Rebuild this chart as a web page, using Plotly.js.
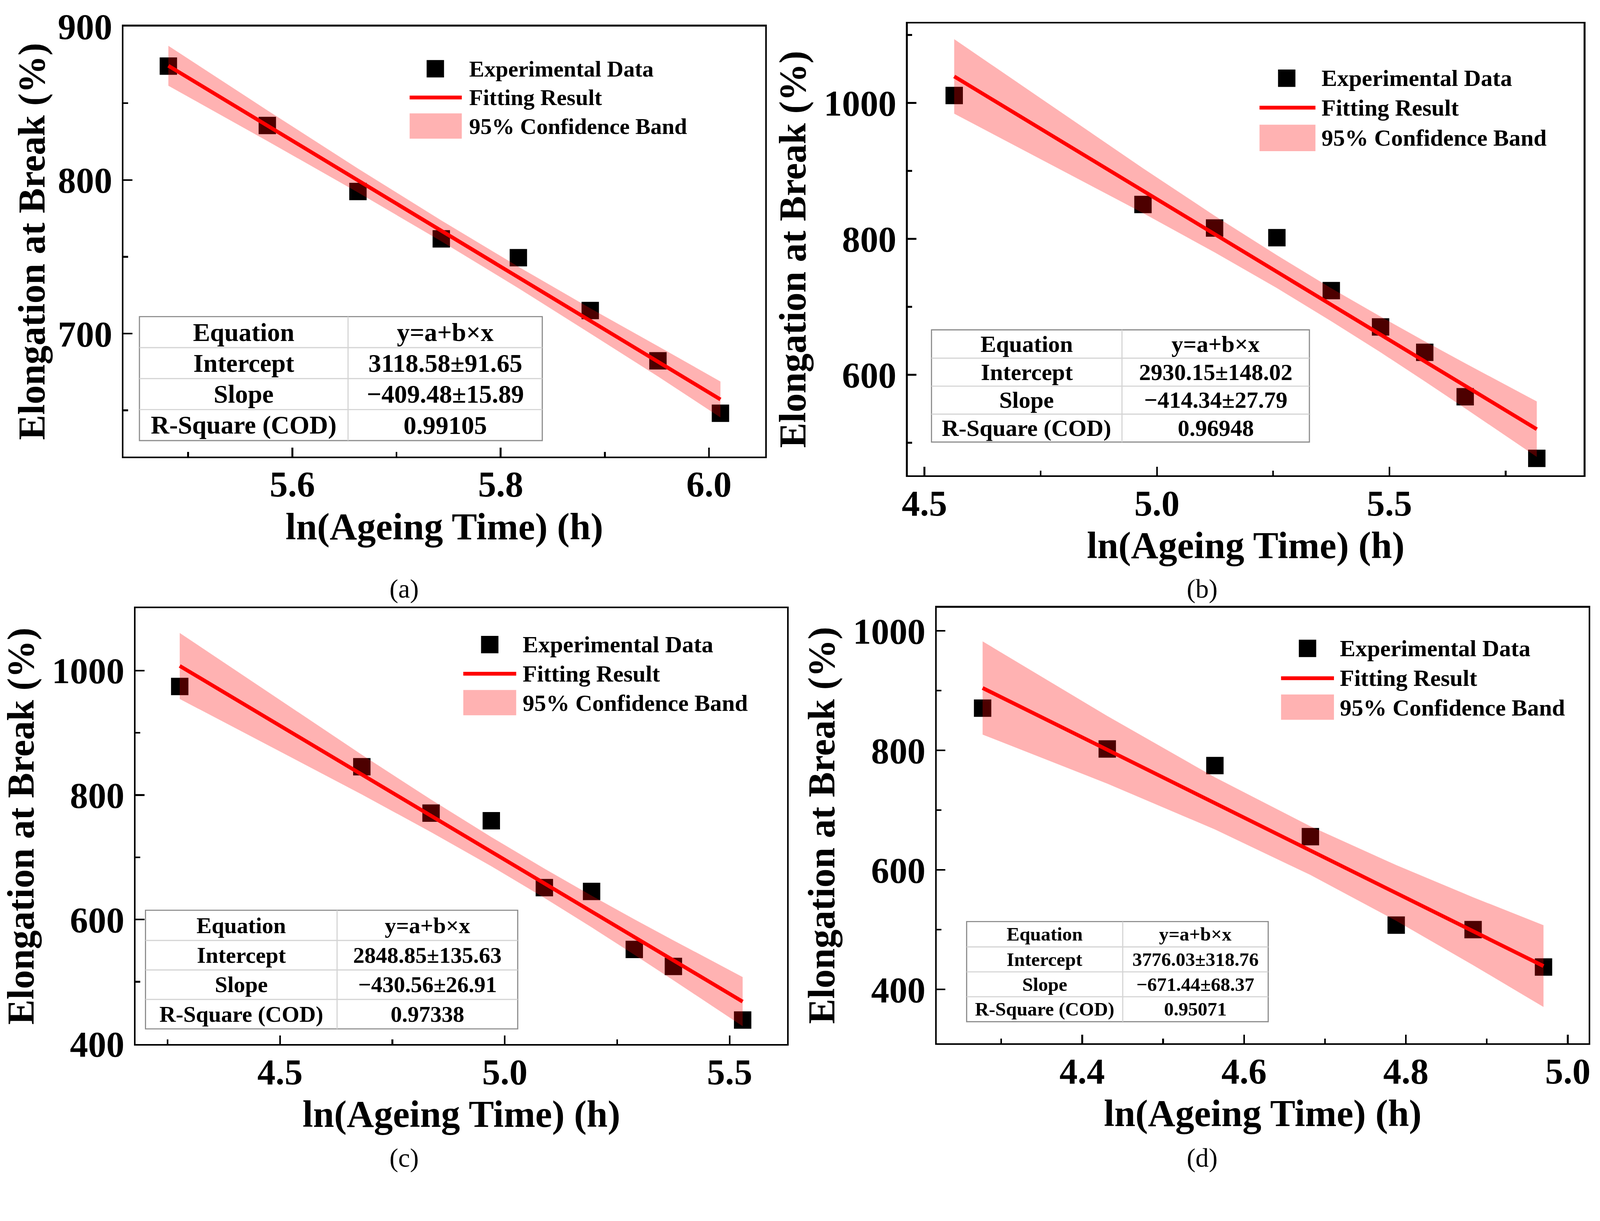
<!DOCTYPE html>
<html>
<head>
<meta charset="utf-8">
<script src="https://cdn.plot.ly/plotly-3.0.1.min.js"></script>
<style>html, body {margin: 0; padding: 0; background: #fff; overflow: hidden;}</style>
</head>
<body>
<div id="plot"></div>
<script>
// reference frame size; everything below is laid out in these pixels
const REF_W = 4234, REF_H = 3126

// (a) ln(ageing time) vs elongation at break
const xA = [5.481, 5.576, 5.663, 5.743, 5.817, 5.886, 5.951, 6.011]
const yA = [874.2, 835.5, 792.5, 761.7, 749.4, 715.0, 682.3, 648.1]
const fitA = [874.4, 835.4, 799.7, 766.9, 736.6, 708.3, 681.9, 657.1]
const upperA = [887.4, 845.4, 807.5, 773.7, 743.6, 716.5, 691.8, 668.8]
const lowerA = [861.4, 825.4, 791.9, 760.1, 729.6, 700.1, 672.1, 645.4]

// (b)
const xB = [4.564, 4.970, 5.124, 5.258, 5.375, 5.481, 5.576, 5.663, 5.817]
const yB = [1011.0, 850.6, 816.0, 801.7, 723.8, 670.4, 633.0, 567.7, 477.0]
const fitB = [1039.0, 871.0, 807.1, 751.8, 703.0, 659.3, 619.8, 583.7, 519.9]
const upperB = [1093.8, 903.9, 834.1, 776.0, 727.3, 685.6, 649.3, 616.9, 560.7]
const lowerB = [984.2, 838.0, 780.1, 727.6, 678.7, 633.0, 590.3, 550.6, 479.1]

// (c)
const xC = [4.277, 4.682, 4.836, 4.970, 5.088, 5.193, 5.288, 5.375, 5.529]
const yC = [974.5, 845.5, 770.9, 758.7, 651.3, 645.2, 552.0, 524.7, 438.5]
const fitC = [1007.5, 832.9, 766.5, 709.1, 658.3, 613.0, 571.9, 534.5, 468.1]
const upperC = [1060.5, 864.8, 792.7, 732.5, 681.8, 638.4, 600.4, 566.6, 507.6]
const lowerC = [954.4, 801.0, 740.3, 685.6, 634.8, 587.5, 543.4, 502.4, 428.6]

// (d)
const xD = [4.277, 4.431, 4.564, 4.682, 4.788, 4.883, 4.970]
const yD = [870.8, 802.5, 774.7, 655.7, 507.7, 500.1, 437.5]
const fitD = [904.5, 801.0, 711.4, 632.3, 561.5, 497.5, 439.1]
const upperD = [982.5, 857.6, 755.0, 673.0, 608.1, 554.3, 507.5]
const lowerD = [826.5, 744.4, 667.8, 591.6, 514.9, 440.7, 370.7]

const legendLabels = ['Experimental Data', 'Fitting Result', '95% Confidence Band']
const tableRows = ['Equation', 'Intercept', 'Slope', 'R-Square (COD)']
const tableA = ['y=a+b×x', '3118.58±91.65', '−409.48±15.89', '0.99105']
const tableB = ['y=a+b×x', '2930.15±148.02', '−414.34±27.79', '0.96948']
const tableC = ['y=a+b×x', '2848.85±135.63', '−430.56±26.91', '0.97338']
const tableD = ['y=a+b×x', '3776.03±318.76', '−671.44±68.37', '0.95071']
const panelLabels = ['(a)', '(b)', '(c)', '(d)']
const xTitle = 'ln(Ageing Time) (h)'
const yTitle = 'Elongation at Break (%)'

// fit to whatever viewport we actually get
const W = window.innerWidth || REF_W
const H = window.innerHeight || REF_H
const s = Math.min(W / REF_W, H / REF_H)
const k = v => v * s

const serif = 'Liberation Serif, Times New Roman, serif'
const px = v => v / REF_W
const py = v => 1 - v / REF_H

const panels = [
  {x: xA, y: yA, fit: fitA, up: upperA, lo: lowerA, table: tableA,
   box: [327, 2025, 70, 1208], xr: [5.438, 6.054], yr: [620, 900], xd: 0.2, yd: 100, ystand: 2,
   leg: {sx: 1152, lx: [1084, 1222], tx: 1239, rows: [182, 258, 334], band: [300, 367], fs: 60},
   tab: {x: [369, 921, 1435], y: [838, 920, 1002, 1084, 1166], fs: 68},
   label: [1069, 1558]},
  {x: xB, y: yB, fit: fitB, up: upperB, lo: lowerB, table: tableB,
   box: [2402, 4191, 62, 1258], xr: [4.464, 5.918], yr: [452, 1117], xd: 0.5, yd: 200, ystand: 16,
   leg: {sx: 3405, lx: [3333, 3481], tx: 3495, rows: [207, 285, 365], band: [330, 400], fs: 62},
   tab: {x: [2465, 2969, 3465], y: [873, 948, 1022, 1096, 1170], fs: 62},
   label: [3181, 1558]},
  {x: xC, y: yC, fit: fitC, up: upperC, lo: lowerC, table: tableC,
   box: [359, 2083, 1610, 2763], xr: [4.179, 5.628], yr: [400, 1100], xd: 0.5, yd: 200, ystand: 16,
   leg: {sx: 1296, lx: [1226, 1366], tx: 1381, rows: [1706, 1783, 1861], band: [1826, 1893], fs: 62},
   tab: {x: [385, 892, 1370], y: [2409, 2489, 2567, 2645, 2723], fs: 60},
   label: [1069, 3065]},
  {x: xD, y: yD, fit: fitD, up: upperD, lo: lowerD, table: tableD,
   box: [2479, 4204, 1608, 2761], xr: [4.2204, 5.0258], yr: [310, 1039], xd: 0.2, yd: 200, ystand: 16,
   leg: {sx: 3460, lx: [3390, 3530], tx: 3544, rows: [1716, 1795, 1873], band: [1838, 1905], fs: 62},
   tab: {x: [2558, 2971, 3356], y: [2439, 2506, 2572, 2638, 2704], fs: 51},
   label: [3181, 3065]}
]

const data = []
const shapes = []
const annotations = []
const layout = {
  width: Math.round(REF_W * s), height: Math.round(REF_H * s),
  margin: {l: 0, r: 0, t: 0, b: 0, pad: 0},
  paper_bgcolor: '#fff', plot_bgcolor: '#fff',
  showlegend: false
}

function axisBase(dtick) {
  return {
    showline: true, mirror: true, linecolor: '#000', linewidth: k(4.5),
    ticks: 'inside', ticklen: k(23), tickwidth: k(4.5), tickcolor: '#000',
    showgrid: false, zeroline: false, tick0: 0, dtick: dtick,
    tickfont: {family: serif, size: k(96), weight: 'bold', color: '#000'},
    minor: {ticks: 'inside', ticklen: k(12), tickwidth: k(4.5), tickcolor: '#000', dtick: dtick / 2}
  }
}

panels.forEach((p, i) => {
  const n = i === 0 ? '' : String(i + 1)
  const xa = 'x' + n, ya = 'y' + n

  data.push({
    type: 'scatter', mode: 'markers', x: p.x, y: p.y, xaxis: xa, yaxis: ya,
    name: legendLabels[0], marker: {symbol: 'square', size: k(46), color: '#000'}
  })
  data.push({
    type: 'scatter', mode: 'none', xaxis: xa, yaxis: ya, name: legendLabels[2],
    x: p.x.concat(p.x.slice().reverse()),
    y: p.up.concat(p.lo.slice().reverse()),
    fill: 'toself', fillcolor: 'rgba(255,0,0,0.3)'
  })
  data.push({
    type: 'scatter', mode: 'lines', x: p.x, y: p.fit, xaxis: xa, yaxis: ya,
    name: legendLabels[1], line: {color: '#ff0000', width: k(10)}
  })

  const [L, R, T, B] = p.box
  layout['xaxis' + n] = Object.assign(axisBase(p.xd), {
    anchor: ya, domain: [px(L), px(R)], range: p.xr, tickformat: '.1f',
    ticklabelstandoff: Math.round(k(-13)),
    title: {text: xTitle, standoff: k(25), font: {family: serif, size: k(100), weight: 'bold', color: '#000'}}
  })
  layout['yaxis' + n] = Object.assign(axisBase(p.yd), {
    anchor: xa, domain: [py(B), py(T)], range: p.yr,
    ticklabelstandoff: Math.round(k(6)),
    title: {text: yTitle, standoff: k(p.ystand), font: {family: serif, size: k(100), weight: 'bold', color: '#000'}}
  })

  // legend drawn by hand so the symbols keep the original size
  const lg = p.leg
  shapes.push({type: 'rect', xref: 'paper', yref: 'paper',
    x0: px(lg.sx - 23), x1: px(lg.sx + 23), y0: py(lg.rows[0] + 23), y1: py(lg.rows[0] - 23),
    fillcolor: '#000', line: {width: 0}})
  shapes.push({type: 'line', xref: 'paper', yref: 'paper',
    x0: px(lg.lx[0]), x1: px(lg.lx[1]), y0: py(lg.rows[1]), y1: py(lg.rows[1]),
    line: {color: '#ff0000', width: k(10)}})
  shapes.push({type: 'rect', xref: 'paper', yref: 'paper',
    x0: px(lg.lx[0]), x1: px(lg.lx[1]), y0: py(lg.band[1]), y1: py(lg.band[0]),
    fillcolor: 'rgba(255,0,0,0.3)', line: {width: 0}})
  legendLabels.forEach((t, j) => {
    annotations.push({xref: 'paper', yref: 'paper', x: px(lg.tx), y: py(lg.rows[j]),
      xanchor: 'left', yanchor: 'middle', showarrow: false, text: t,
      font: {family: serif, size: k(lg.fs), weight: 'bold', color: '#000'}})
  })

  // fit table
  const tb = p.tab
  shapes.push({type: 'rect', xref: 'paper', yref: 'paper',
    x0: px(tb.x[0]), x1: px(tb.x[2]), y0: py(tb.y[4]), y1: py(tb.y[0]),
    fillcolor: '#fff', line: {color: '#8c8c8c', width: k(3)}})
  for (let j = 1; j < 4; j++) {
    shapes.push({type: 'line', xref: 'paper', yref: 'paper',
      x0: px(tb.x[0]), x1: px(tb.x[2]), y0: py(tb.y[j]), y1: py(tb.y[j]),
      line: {color: '#d4d4d4', width: k(3)}})
  }
  shapes.push({type: 'line', xref: 'paper', yref: 'paper',
    x0: px(tb.x[1]), x1: px(tb.x[1]), y0: py(tb.y[4]), y1: py(tb.y[0]),
    line: {color: '#d4d4d4', width: k(3)}})
  tableRows.forEach((t, j) => {
    const yc = py((tb.y[j] + tb.y[j + 1]) / 2)
    annotations.push({xref: 'paper', yref: 'paper', x: px((tb.x[0] + tb.x[1]) / 2), y: yc,
      xanchor: 'center', yanchor: 'middle', showarrow: false, text: t,
      font: {family: serif, size: k(tb.fs), weight: 'bold', color: '#000'}})
    annotations.push({xref: 'paper', yref: 'paper', x: px((tb.x[1] + tb.x[2]) / 2), y: yc,
      xanchor: 'center', yanchor: 'middle', showarrow: false, text: p.table[j],
      font: {family: serif, size: k(tb.fs), weight: 'bold', color: '#000'}})
  })

  annotations.push({xref: 'paper', yref: 'paper', x: px(p.label[0]), y: py(p.label[1]),
    xanchor: 'center', yanchor: 'middle', showarrow: false, text: panelLabels[i],
    font: {family: serif, size: k(70), color: '#000'}})
})

layout.shapes = shapes
layout.annotations = annotations

Plotly.newPlot('plot', data, layout, {displayModeBar: false, staticPlot: true})
</script>
</body>
</html>
